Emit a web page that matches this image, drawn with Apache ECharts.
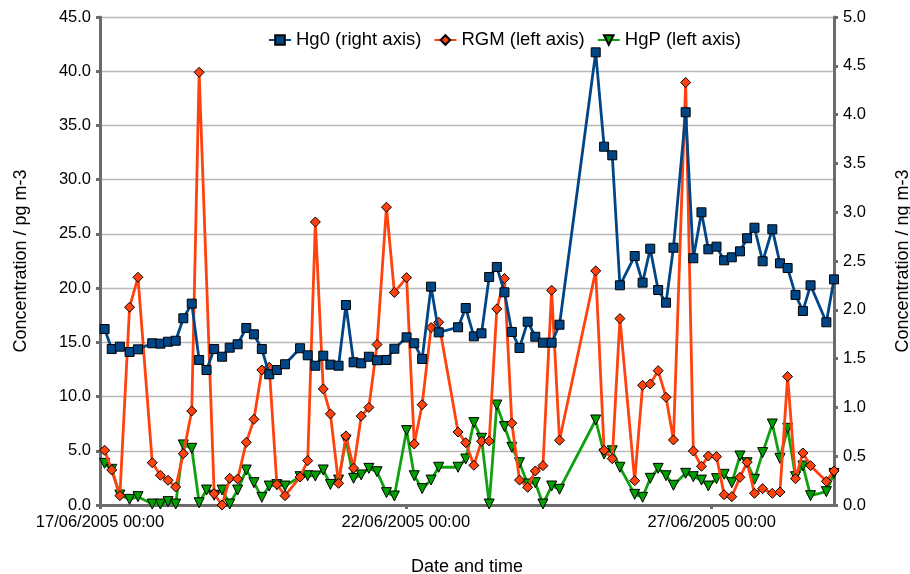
<!DOCTYPE html>
<html><head><meta charset="utf-8">
<script src="https://cdn.jsdelivr.net/npm/echarts@6/dist/echarts.min.js"></script>
<style>html,body{margin:0;padding:0;background:#fff}#c{width:910px;height:574px}</style>
</head><body><div id="c"></div>
<script>
// hours since 17/06/2005 00:00
const timeHours = [1.8,4.6,7.8,11.6,14.9,20.5,23.7,26.7,29.7,32.7,36.0,38.9,41.8,44.8,47.9,50.9,54.0,57.4,60.4,63.5,
  66.4,69.4,72.6,78.5,81.5,84.5,87.6,90.4,93.6,96.5,99.5,102.5,105.5,108.7,112.4,115.5,120.3,123.3,126.4,129.9,
  132.9,140.5,143.5,146.7,149.7,152.7,155.7,158.7,161.6,164.6,167.8,170.8,173.8,177.2,180.3,194.5,197.8,201.0,204.0,209.8,
  212.9,215.9,219.0,222.1,225.0,229.8,232.8,236.0,238.7,241.9,244.9,247.9,251.1,253.9,256.8,260.0,263.8,266.8,269.8,272.9,
  275.8,278.8,285.0,288.0];
// Hg0, ng m-3 (right axis)
const hg0 = [1.803,1.598,1.622,1.568,1.595,1.657,1.653,1.673,1.683,1.913,2.063,1.486,1.383,1.598,1.519,1.612,1.647,1.814,1.749,1.598,
  1.339,1.383,1.442,1.606,1.534,1.427,1.530,1.438,1.427,2.049,1.462,1.452,1.519,1.483,1.486,1.601,1.718,1.657,1.496,2.237,
  1.769,1.821,2.018,1.728,1.759,2.336,2.439,2.179,1.773,1.609,1.878,1.724,1.663,1.663,1.847,4.638,3.671,3.583,2.251,2.551,
  2.278,2.626,2.203,2.073,2.636,4.024,2.528,2.999,2.620,2.647,2.507,2.538,2.599,2.733,2.841,2.497,2.825,2.476,2.428,2.152,
  1.988,2.251,1.872,2.312];
// RGM, pg m-3 (left axis)
const rgm = [5.05,3.23,0.86,18.24,21.0,3.9,2.74,2.28,1.66,4.73,8.67,39.9,null,1.04,0.0,2.46,2.4,5.78,7.9,12.45,
  12.7,1.9,0.86,2.58,4.09,26.1,10.7,8.4,2.0,6.37,3.4,8.2,9.0,14.8,27.46,19.6,20.97,5.63,9.25,16.36,
  16.85,6.73,5.75,3.66,5.88,5.9,18.08,20.88,7.54,2.3,1.63,3.14,3.63,19.8,5.97,21.59,5.05,4.27,17.19,2.24,
  11.04,11.16,12.39,9.93,6.0,38.96,4.98,3.57,4.52,4.46,0.95,0.77,2.55,3.94,1.08,1.51,1.08,1.2,11.84,2.43,
  4.8,3.63,2.18,3.14];
// HgP, pg m-3 (left axis)
const hgp = [3.84,3.29,0.92,0.52,0.77,0.09,0.09,0.31,0.09,5.54,5.23,0.21,1.38,0.9,1.38,0.09,1.38,3.23,2.06,0.71,
  1.75,1.88,1.75,2.61,2.7,2.67,3.23,1.9,2.3,6.0,2.46,2.77,3.38,3.07,1.14,0.83,6.86,2.7,1.51,2.3,
  3.48,3.48,4.24,7.6,6.15,0.09,9.22,7.23,5.32,3.9,1.94,2.06,0.09,1.75,1.45,7.84,4.7,5.0,3.48,0.98,
  0.71,2.46,3.38,2.7,1.82,2.92,2.61,2.3,1.75,2.43,2.83,2.06,4.52,3.9,2.37,4.83,7.47,4.3,7.07,2.61,
  3.6,0.86,1.23,2.92];
const xTickLabels = ['17/06/2005 00:00','22/06/2005 00:00','27/06/2005 00:00'];
const seriesNames = ['Hg0 (right axis)','RGM (left axis)','HgP (left axis)'];

const FONT = '"Liberation Sans", Arial, sans-serif';
const axisGray = '#6b6b6b';
const pair = arr => timeHours.map((t,i) => [t, arr[i]]);

const chart = echarts.init(document.getElementById('c'), null, {renderer:'canvas'});
chart.setOption({
  animation:false,
  backgroundColor:'#fff',
  textStyle:{fontFamily:FONT},
  grid:{left:100,right:76,top:17,bottom:69,containLabel:false,outerBoundsMode:'none'},
  legend:{
    top:29,left:268,padding:0,itemWidth:22,itemHeight:12,itemGap:12,
    data:seriesNames,
    textStyle:{fontFamily:FONT,fontSize:18.5,color:'#000',lineHeight:22}
  },
  xAxis:{
    type:'value',min:0,max:288,interval:120,
    name:'Date and time',nameLocation:'middle',nameGap:53,
    nameTextStyle:{fontFamily:FONT,fontSize:18,color:'#000'},
    axisLine:{show:true,onZero:false,lineStyle:{color:axisGray,width:3}},
    axisTick:{show:true,length:4,lineStyle:{color:axisGray,width:3}},
    axisLabel:{margin:9,fontFamily:FONT,fontSize:16.5,color:'#000',showMaxLabel:false,
      formatter:v => (v % 120 === 0 && xTickLabels[v/120]) ? xTickLabels[v/120] : ''},
    splitLine:{show:false}
  },
  yAxis:[{
    type:'value',min:0,max:45,interval:5,position:'left',
    name:'Concentration / pg m-3',nameLocation:'middle',nameGap:70,nameRotate:90,
    nameTextStyle:{fontFamily:FONT,fontSize:18,color:'#000'},
    axisLine:{show:true,lineStyle:{color:axisGray,width:3}},
    axisTick:{show:true,length:4,lineStyle:{color:axisGray,width:3}},
    axisLabel:{margin:9,fontFamily:FONT,fontSize:16.5,color:'#000',formatter:v=>v.toFixed(1)},
    splitLine:{show:true,lineStyle:{color:'#b8b8b8',width:1.3}}
  },{
    type:'value',min:0,max:5,interval:0.5,position:'right',
    name:'Concentration / ng m-3',nameLocation:'middle',nameGap:60,nameRotate:90,
    nameTextStyle:{fontFamily:FONT,fontSize:18,color:'#000'},
    axisLine:{show:true,lineStyle:{color:axisGray,width:3}},
    axisTick:{show:true,length:4,lineStyle:{color:axisGray,width:3}},
    axisLabel:{margin:9,fontFamily:FONT,fontSize:16.5,color:'#000',formatter:v=>v.toFixed(1)},
    splitLine:{show:false}
  }],
  series:[{
    name:seriesNames[2],type:'line',yAxisIndex:0,data:pair(hgp),z:2,
    symbol:'triangle',symbolRotate:180,symbolSize:10,connectNulls:true,
    lineStyle:{color:'#10a010',width:2.8},
    itemStyle:{color:'#00a000',borderColor:'#000',borderWidth:1}
  },{
    name:seriesNames[1],type:'line',yAxisIndex:0,data:pair(rgm),z:3,
    symbol:'diamond',symbolSize:10,connectNulls:true,
    lineStyle:{color:'#ff420e',width:2.8},
    itemStyle:{color:'#ff420e',borderColor:'#000',borderWidth:1}
  },{
    name:seriesNames[0],type:'line',yAxisIndex:1,data:pair(hg0),z:4,
    symbol:'rect',symbolSize:9,connectNulls:true,
    lineStyle:{color:'#004586',width:2.8},
    itemStyle:{color:'#004586',borderColor:'#000',borderWidth:1}
  }]
});
</script></body></html>
